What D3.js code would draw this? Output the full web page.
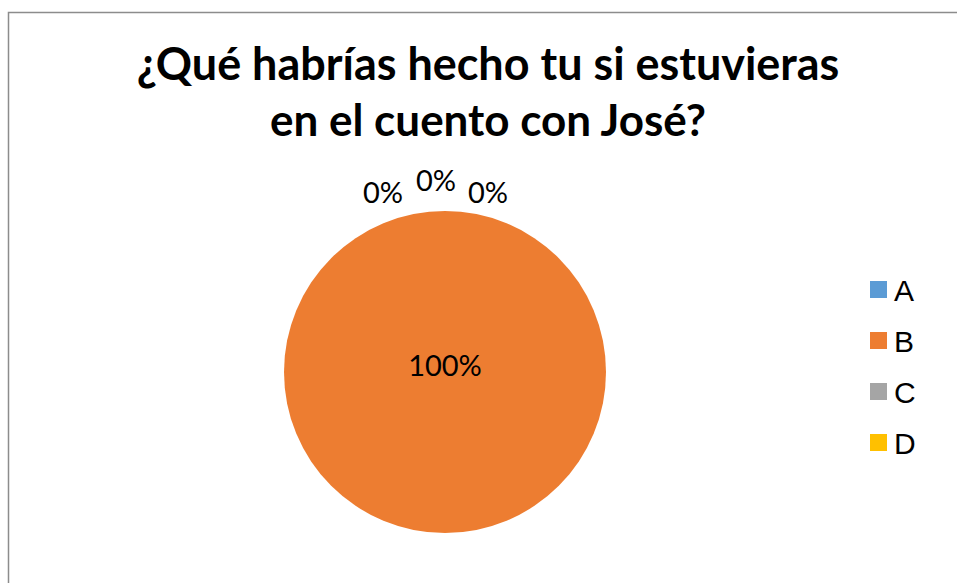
<!DOCTYPE html>
<html>
<head>
<meta charset="utf-8">
<script src="https://cdn.jsdelivr.net/npm/d3@7"></script>
<style>
  body { margin: 0; background: #fff; }
  svg { display: block; }
</style>
</head>
<body>
<div id="chart"></div>
<script>
// data
const categories = ["A", "B", "C", "D"];
const values = [0, 100, 0, 0];
const colors = ["#5B9BD5", "#ED7D31", "#A5A5A5", "#FFC000"];
const titleLines = ["¿Qué habrías hecho tu si estuvieras", "en el cuento con José?"];

const width = 957;
const height = 583;

const svg = d3
  .select("#chart")
  .append("svg")
  .attr("width", width)
  .attr("height", height);

//chart border (runs off the right and bottom edge)
svg
  .append("rect")
  .attr("x", 8.5)
  .attr("y", 12.5)
  .attr("width", 1000)
  .attr("height", 1000)
  .attr("fill", "none")
  .attr("stroke", "#8c8c8c")
  .attr("stroke-width", 1.5);

//title
const titleWidths = [703, 436];
const title = svg
  .append("g")
  .selectAll("text")
  .data(titleLines)
  .enter()
  .append("text")
  .attr("x", 488)
  .attr("y", (d, i) => 80 + i * 56)
  .attr("text-anchor", "middle")
  .style("font-family", "Lato, 'Open Sans', sans-serif")
  .style("font-weight", "bold")
  .style("font-size", "44px")
  .attr("fill", "#000")
  .text((d) => d);

//fit the title width to the reference font
title.each(function (d, i) {
  const w = this.getComputedTextLength();
  const size = 44 * (titleWidths[i] / w);
  d3.select(this).style("font-size", Math.min(size, 46) + "px");
});

//pie
const cx = 445;
const cy = 372;
const radius = 161;

const pie = d3.pie().sort(null).value((d) => d);
const arcs = pie(values);
const arc = d3.arc().innerRadius(0).outerRadius(radius);
const labelArc = d3.arc().innerRadius(radius + 20).outerRadius(radius + 20);

const g = svg.append("g").attr("transform", `translate(${cx},${cy})`);

g.selectAll("path")
  .data(arcs)
  .enter()
  .append("path")
  .attr("d", arc)
  .attr("fill", (d, i) => colors[i]);

//data labels; zero slices are pushed apart like excel does
const labelNudge = [
  [-62, 12],
  [0, 0],
  [-9, 0],
  [43, 12],
];

g.selectAll(".label")
  .data(arcs)
  .enter()
  .append("text")
  .attr("class", "label")
  .attr("transform", (d, i) => {
    let p;
    if (d.value === 0) {
      p = labelArc.centroid(d);
      p = [p[0] + labelNudge[i][0], p[1] + labelNudge[i][1]];
    } else {
      p = [0, 4];
    }
    return `translate(${p[0]},${p[1]})`;
  })
  .attr("text-anchor", "middle")
  .style("font-family", "Lato, 'Open Sans', sans-serif")
  .style("font-size", "29px")
  .attr("fill", "#000")
  .text((d) => d3.format(".0%")(d.value / d3.sum(values)));

//legend
const legend = svg.append("g").attr("transform", "translate(870,281)");
const size = 17;

legend
  .selectAll("rect")
  .data(categories)
  .enter()
  .append("rect")
  .attr("x", 0)
  .attr("y", (d, i) => i * 51)
  .attr("width", size)
  .attr("height", size)
  .attr("fill", (d, i) => colors[i]);

legend
  .selectAll("text")
  .data(categories)
  .enter()
  .append("text")
  .attr("x", 24)
  .attr("y", (d, i) => i * 51 + size / 2 + 11)
  .style("font-family", "'Liberation Sans', Arial, sans-serif")
  .style("font-size", "30px")
  .attr("fill", "#000")
  .text((d) => d);
</script>
</body>
</html>
